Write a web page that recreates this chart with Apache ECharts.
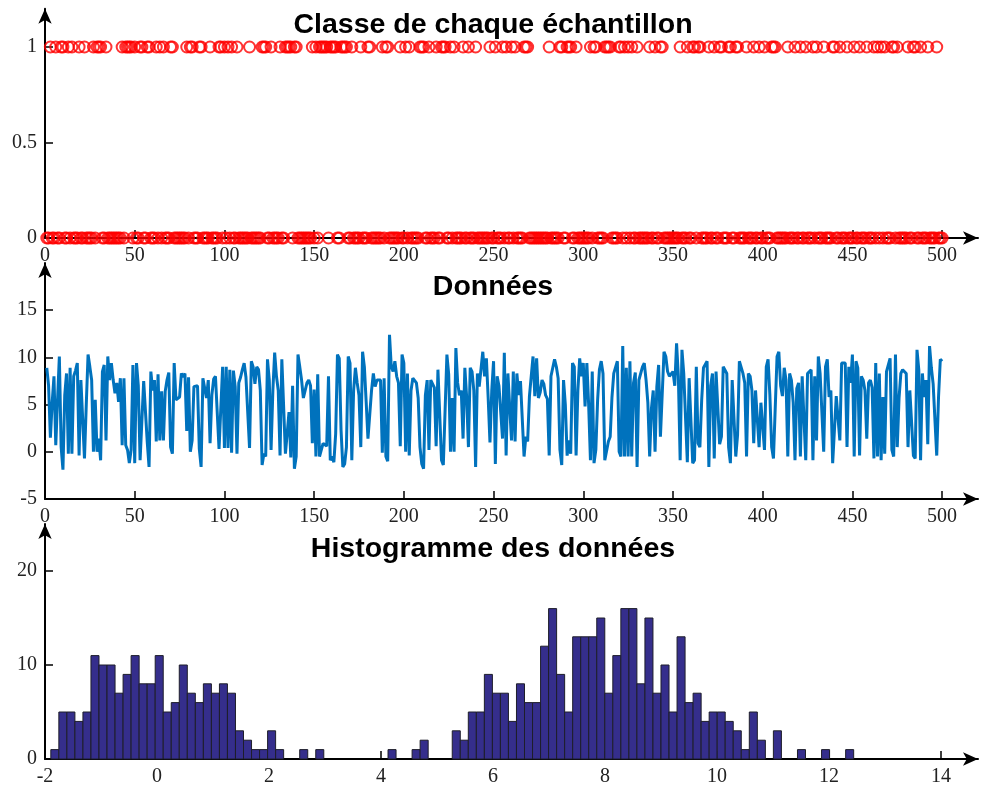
<!DOCTYPE html>
<html><head><meta charset="utf-8">
<script src="https://cdn.jsdelivr.net/npm/echarts@6/dist/echarts.min.js"></script>
<style>html,body{margin:0;padding:0;background:#fff}#c{width:981px;height:794px}</style>
</head><body><div id="c"></div>
<script>
// ---- data ----
const dataValues = [
8.9,7.0,1.5,5.2,8.0,0.7,5.5,10.1,0.5,-1.9,
6.0,8.3,-0.2,8.9,-0.2,8.0,8.6,9.4,-0.4,7.6,
7.6,-0.7,5.0,10.3,9.0,7.6,0.0,5.5,0.0,1.4,
-0.9,8.5,9.2,1.2,10.1,7.6,9.4,7.6,6.2,7.3,
5.3,7.8,0.7,7.8,0.7,0.2,-1.2,0.2,9.2,-1.2,
9.4,7.0,-0.9,-1.0,7.5,7.3,1.0,-1.6,8.5,6.5,
7.6,1.1,8.2,1.2,6.4,1.2,6.4,7.6,8.4,0.5,
-0.2,9.4,5.5,5.6,5.8,8.3,7.9,8.3,2.2,7.9,
0.0,1.2,6.9,6.9,7.0,0.3,-1.6,7.8,8.0,5.7,
7.6,0.9,6.0,7.7,8.0,7.8,0.3,0.4,9.0,0.4,
9.0,0.4,8.7,-0.1,8.6,6.9,-0.2,7.3,7.9,8.7,
9.4,7.9,7.9,0.4,9.6,9.0,7.2,9.0,8.7,6.5,
-1.4,-0.2,-0.5,9.8,7.6,0.2,6.5,10.5,8.0,6.5,
-0.4,9.8,10.0,-0.2,-0.4,4.2,-0.6,7.0,-1.8,-0.5,
10.3,9.0,7.6,5.7,5.5,7.3,7.6,7.0,0.9,6.6,
-0.5,8.2,-0.5,0.2,0.9,0.7,0.6,8.0,-0.9,-0.5,
-1.1,1.9,10.3,9.9,2.3,-1.6,-1.3,0.5,10.1,9.4,
-0.9,6.5,8.9,7.3,6.0,0.5,10.6,9.0,5.3,1.4,
1.4,6.5,8.3,6.9,7.6,7.8,7.6,-0.1,7.8,-0.5,
-1.0,12.4,9.0,8.5,9.6,8.0,7.3,0.6,10.3,9.4,
0.0,8.3,-0.4,6.5,7.8,8.0,7.3,5.7,0.5,-1.3,
-1.8,6.0,7.6,0.2,7.6,7.4,6.8,0.6,8.7,8.5,
-0.9,-1.4,-1.5,10.3,8.2,0.0,5.7,0.0,11.0,7.3,
6.0,6.5,1.4,8.9,5.8,0.5,8.9,8.5,6.5,-1.6,
8.3,6.9,6.9,10.6,8.0,9.9,5.7,1.0,6.5,9.6,
-1.3,8.0,7.0,7.1,1.4,10.5,-0.4,8.3,8.2,1.2,
8.5,1.1,8.3,6.0,7.5,7.3,-0.5,1.6,1.1,5.9,
5.9,10.1,5.9,9.9,5.7,6.3,7.6,7.2,6.0,5.6,
-0.4,8.0,7.8,9.8,9.0,7.8,0.2,-1.4,7.6,5.0,
-0.4,1.2,-0.2,9.4,9.0,-0.4,6.5,9.9,8.0,9.4,
4.8,9.4,5.0,-0.9,8.5,-1.2,0.2,5.5,8.7,9.6,
8.3,-0.9,-0.7,1.1,1.6,5.8,8.3,8.2,9.6,0.0,
-0.5,11.2,-0.5,8.9,-0.5,9.6,-0.5,7.3,8.4,-1.6,
7.6,7.6,9.0,9.4,7.6,5.2,-0.5,4.6,6.5,0.0,
6.9,9.2,1.6,1.4,10.6,10.1,8.5,8.0,7.9,8.5,
7.0,11.5,8.0,-0.9,10.8,8.3,8.1,-1.1,7.8,7.6,
-1.2,-0.9,9.0,0.9,0.5,5.5,8.9,9.0,9.6,-1.6,
7.0,8.3,-0.7,8.5,8.3,0.8,1.6,9.0,8.9,8.3,
0.5,-1.2,7.6,7.8,-0.5,1.8,9.6,9.4,8.3,7.3,
-0.5,8.3,8.0,6.5,0.9,6.5,6.5,0.5,5.2,5.0,
0.2,9.0,9.8,6.0,0.5,-0.7,-0.9,10.1,10.6,7.0,
5.9,8.9,7.6,-0.5,8.3,7.6,5.2,-0.9,6.7,7.3,
-0.5,8.0,8.2,-0.9,8.3,8.3,8.7,-0.9,8.0,1.2,
10.1,8.3,8.3,0.0,9.0,9.8,5.8,6.5,-1.2,-1.2,
5.9,5.8,1.2,9.4,9.6,9.4,0.5,9.0,7.3,10.3,
-0.5,9.6,8.9,-0.4,8.0,7.6,6.5,1.4,7.3,7.6,
6.8,-0.7,9.4,-0.5,8.3,-0.9,5.8,-0.2,8.5,8.3,
9.9,0.2,-0.5,10.3,0.5,5.7,8.3,8.7,8.5,8.3,
0.5,6.5,6.6,-0.4,-0.7,10.8,8.7,-0.9,8.3,5.8,
7.6,0.8,11.2,8.9,7.2,7.3,-0.4,5.8,9.8,9.6
];
const classValues = [
0,0,1,0,0,1,0,0,1,1, 0,0,1,0,1,0,0,0,1,0, 0,1,0,0,0,0,1,0,1,1, 1,0,0,1,0,0,0,0,0,0, 0,0,1,0,1,1,1,1,0,1,
0,0,1,1,0,0,1,1,0,0, 0,1,0,1,0,1,0,0,0,1, 1,0,0,0,0,0,0,0,1,0, 1,1,0,0,0,1,1,0,0,0, 0,1,0,0,0,0,1,1,0,1,
0,1,0,1,0,0,1,0,0,0, 0,0,0,1,0,0,0,0,0,0, 1,1,1,0,0,1,0,0,0,0, 1,0,0,1,1,1,1,0,1,1, 0,0,0,0,0,0,0,0,1,0,
1,0,1,1,1,1,1,0,1,1, 1,1,0,0,1,1,1,1,0,0, 1,0,0,0,0,1,0,0,0,1, 1,0,0,0,0,0,0,1,0,1, 1,0,0,0,0,0,0,1,0,0,
1,0,1,0,0,0,0,0,1,1, 1,0,0,1,0,0,0,1,0,0, 1,1,1,0,0,1,0,1,0,0, 0,0,1,0,0,1,0,0,0,1, 0,0,0,0,0,0,0,1,0,0,
1,0,0,0,1,0,1,0,0,1, 0,1,0,0,0,0,1,1,1,0, 0,0,0,0,0,0,0,0,0,0, 1,0,0,0,0,0,1,1,0,0, 1,1,1,0,0,1,0,0,0,0,
0,0,0,1,0,1,1,0,0,0, 0,1,1,1,1,0,0,0,0,1, 1,0,1,0,1,0,1,0,0,1, 0,0,0,0,0,0,1,0,0,1, 0,0,1,1,0,0,0,0,0,0,
0,0,0,1,0,0,0,1,0,0, 1,1,0,1,1,0,0,0,0,1, 0,0,1,0,0,1,1,0,0,0, 1,1,0,0,1,1,0,0,0,0, 1,0,0,0,1,0,0,1,0,0,
1,0,0,0,1,1,1,0,0,0, 0,0,0,1,0,0,0,1,0,0, 1,0,0,1,0,0,0,1,0,1, 0,0,0,1,0,0,0,0,1,1, 0,0,1,0,0,0,1,0,0,0,
1,0,0,1,0,0,0,1,0,0, 0,1,0,1,0,1,0,1,0,0, 0,1,1,0,1,0,0,0,0,0, 1,0,0,1,1,0,0,1,0,0, 0,1,0,0,0,0,1,0,0,0
];
const histCounts = [
1,5,5,4,5,11,10,10,7,9, 11,8,8,11,5,6,10,7,6,8, 7,8,7,3,2,1,1,3,1,0, 0,1,0,1,0,0,0,0,0,0,
0,0,1,0,0,1,2,0,0,0, 3,2,5,5,9,7,7,4,8,6, 6,12,16,9,5,13,13,13,15,7, 11,16,16,8,15,7,10,5,13,6,
7,4,5,5,4,3,1,5,2,0, 3,0,0,1,0,0,1,0,0,1
];
const histMin = -1.896, histMax = 12.44;
const xTicksSamples = [0,50,100,150,200,250,300,350,400,450,500];
const yTicksClass = [0,0.5,1];
const yTicksData = [-5,0,5,10,15];
const xTicksHist = [-2,0,2,4,6,8,10,12,14];
const yTicksHist = [0,10,20];

// ---- chart ----
const chart = echarts.init(document.getElementById('c'), null, {renderer:'canvas'});
const labelFont = {color:'#222', fontFamily:'Liberation Serif', fontSize:20};
function axisCommon(ticks, extra){
  return Object.assign({
    type:'value',
    axisLine:{show:true, onZero:false, symbol:['none','arrow'], symbolSize:[10,15], lineStyle:{color:'#000', width:2}},
    axisTick:{show:true, inside:true, length:8, customValues:ticks, lineStyle:{color:'#000', width:1.5}},
    axisLabel:Object.assign({customValues:ticks, margin:8}, labelFont),
    splitLine:{show:false}
  }, extra);
}
const titleStyle = {fontFamily:'Liberation Sans', fontWeight:'bold', fontSize:28.5, color:'#000'};
const sampleIdx = dataValues.map((v,i)=>i+1);
const binW = (histMax-histMin)/histCounts.length;
const histData = [];
histCounts.forEach((c,i)=>{ if(c>0) histData.push([histMin+i*binW, histMin+(i+1)*binW, c]); });

chart.setOption({
  animation:false,
  backgroundColor:'#fff',
  title:[
    {text:'Classe de chaque échantillon', left:493, top:11, textAlign:'center', padding:0, textStyle:titleStyle},
    {text:'Données', left:493, top:273, textAlign:'center', padding:0, textStyle:titleStyle},
    {text:'Histogramme des données', left:493, top:535, textAlign:'center', padding:0, textStyle:titleStyle}
  ],
  grid:[
    {left:45, right:3, top:8.8, height:229.2},
    {left:45, right:3, top:263, height:236},
    {left:45, right:3, top:524, height:235}
  ],
  xAxis:[
    axisCommon(xTicksSamples,{gridIndex:0, min:0, max:520}),
    axisCommon(xTicksSamples,{gridIndex:1, min:0, max:520}),
    axisCommon(xTicksHist,{gridIndex:2, min:-2, max:14.66})
  ],
  yAxis:[
    axisCommon(yTicksClass,{gridIndex:0, min:0, max:1.2}),
    axisCommon(yTicksData,{gridIndex:1, min:-5, max:20}),
    axisCommon(yTicksHist,{gridIndex:2, min:0, max:25})
  ],
  series:[
    {type:'scatter', xAxisIndex:0, yAxisIndex:0, clip:false, symbol:'circle', symbolSize:11,
     itemStyle:{color:'rgba(0,0,0,0)', borderColor:'#ff0000', borderWidth:2},
     data:sampleIdx.map((x,i)=>[x, classValues[i]])},
    {type:'line', xAxisIndex:1, yAxisIndex:1, showSymbol:false, clip:false,
     lineStyle:{color:'#0072BD', width:3}, data:sampleIdx.map((x,i)=>[x, dataValues[i]])},
    {type:'custom', xAxisIndex:2, yAxisIndex:2, clip:false, data:histData, encode:{x:[0,1], y:2},
     renderItem:function(params, api){
       const p0 = api.coord([api.value(0), api.value(2)]);
       const p1 = api.coord([api.value(1), 0]);
       return {type:'rect', shape:{x:p0[0], y:p0[1], width:p1[0]-p0[0], height:p1[1]-p0[1]},
               style:{fill:'#352e8c', stroke:'#1e1e2a', lineWidth:1}};
     }}
  ]
});
</script></body></html>
